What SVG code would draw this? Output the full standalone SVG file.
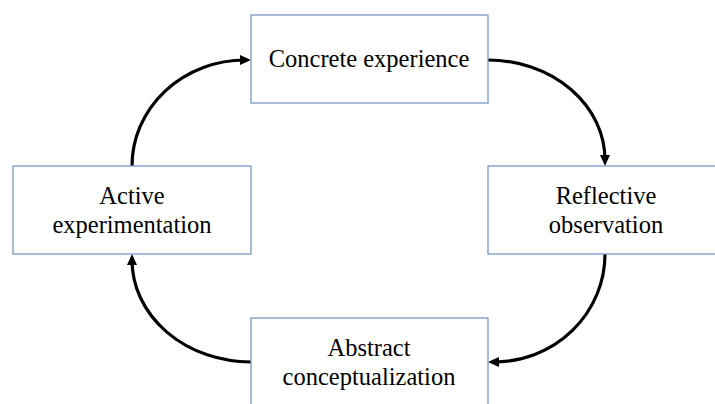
<svg xmlns="http://www.w3.org/2000/svg" width="715" height="404" viewBox="0 0 715 404">
<style>
.box{fill:#fff;stroke:#7b98bf;stroke-width:1.3}
.lbl{font-family:"Liberation Serif","Times New Roman",serif;font-size:24.5px;fill:#000;text-anchor:middle}
.conn{fill:none;stroke:#000;stroke-width:3.2;marker-end:url(#ah)}
</style>
<defs>
<marker id="ah" markerUnits="userSpaceOnUse" markerWidth="12" markerHeight="11" refX="5" refY="5.5" orient="auto">
<path d="M0,0.5 L11,5.5 L0,10.5 z" fill="#000"/>
</marker>
</defs>
<rect width="715" height="404" fill="#fff"/>
<g id="connectors">
<path class="conn" d="M488,60 A117,100 0 0 1 605,160"/>
<path class="conn" d="M605,254 A111,108 0 0 1 494,362"/>
<path class="conn" d="M251,362 A119,102 0 0 1 132,260"/>
<path class="conn" d="M132,166 A113,106 0 0 1 245,60"/>
</g>
<g id="concrete">
<rect class="box" x="251" y="15" width="237" height="88"/>
<text class="lbl" x="369" y="67">Concrete experience</text>
</g>
<g id="reflective">
<rect class="box" x="488" y="166" width="236" height="88"/>
<text class="lbl" x="606" y="204">Reflective</text>
<text class="lbl" x="606" y="233">observation</text>
</g>
<g id="abstract">
<rect class="box" x="251" y="318" width="237" height="100"/>
<text class="lbl" x="369" y="356">Abstract</text>
<text class="lbl" x="369" y="385">conceptualization</text>
</g>
<g id="active">
<rect class="box" x="13" y="166" width="238" height="88"/>
<text class="lbl" x="132" y="204">Active</text>
<text class="lbl" x="132" y="233">experimentation</text>
</g>
</svg>
